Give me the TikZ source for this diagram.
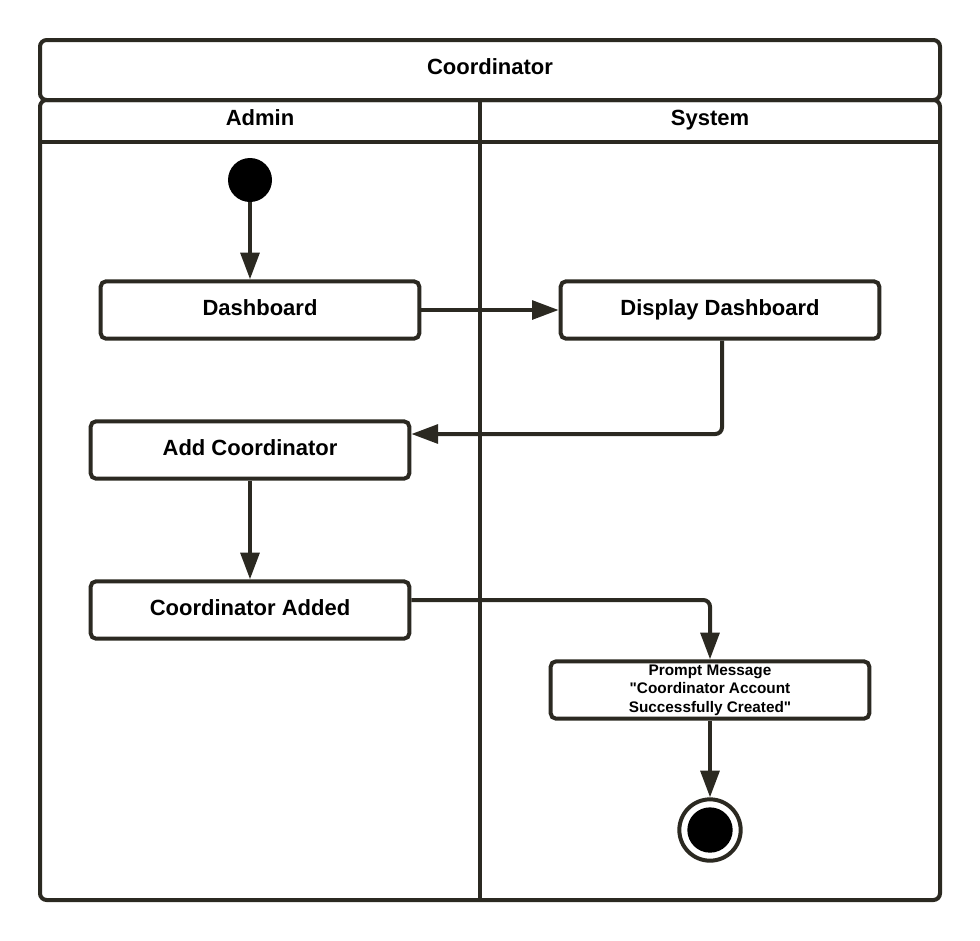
\documentclass[tikz,border=0pt]{standalone}
\usepackage{fontspec}
\setmainfont{Liberation Sans}
\usetikzlibrary{arrows.meta,positioning}
\definecolor{ink}{RGB}{43,41,33}
\tikzset{
  actbox/.style={draw=ink,line width=3pt,rounded corners=4pt,fill=white,
    minimum width=239pt,minimum height=43pt,inner sep=1pt,text depth=3.5pt,
    font=\bfseries\fontsize{16.5}{20}\selectfont},
  laneline/.style={draw=ink,line width=3pt},
  lanetitle/.style={text depth=3.5pt,font=\bfseries\fontsize{16.5}{20}\selectfont},
  arr/.style={draw=ink,line width=3pt,rounded corners=5pt,
    -{Triangle[length=20pt,width=14pt]}},
}
\begin{document}
\begin{tikzpicture}[x=0.75pt,y=-0.75pt]
    \useasboundingbox (0,0) rectangle (980,940);
    % pool and lanes
    \draw[laneline,rounded corners=5pt] (40,40) rectangle (940,100);
    \draw[laneline,rounded corners=5pt] (40,100) rectangle (940,900);
    \draw[laneline] (40,142) -- (940,142);
    \draw[laneline] (480,100) -- (480,900);
    \node[lanetitle] (pool)   at (490,69)  {Coordinator};
    \node[lanetitle] (admin)  at (260,120) {Admin};
    \node[lanetitle] (system) at (710,120) {System};
    % activities
    \node[circle,fill=black,minimum size=33pt,inner sep=0pt] (start) at (250,180) {};
    \node[actbox] (dash)  at (260,310) {Dashboard};
    \node[actbox] (disp)  at (720,310) {Display Dashboard};
    \node[actbox] (add)   at (250,450) {Add Coordinator};
    \node[actbox] (added) at (250,610) {Coordinator Added};
    \node[actbox,text depth=,font=\bfseries\fontsize{11.5}{14}\selectfont,align=center]
      (prompt) at (710,690) {Prompt Message\\\textquotedbl Coordinator Account\\Successfully Created\textquotedbl};
    \node[circle,draw=ink,line width=3pt,fill=white,minimum size=46pt,inner sep=0pt] (stop) at (710,830) {};
    \node[circle,fill=black,minimum size=34pt,inner sep=0pt] at (stop) {};
    % flow
    \draw[arr] (start) -- (start |- dash.north);
    \draw[arr] (dash) -- (disp);
    \draw[arr] ([xshift=1.5pt]disp.south) |- ([yshift=12pt]add.east);
    \draw[arr] (add) -- (added);
    \draw[arr] ([yshift=7.5pt]added.east) -| (prompt.north);
    \draw[arr] (prompt) -- (stop);
\end{tikzpicture}
\end{document}
